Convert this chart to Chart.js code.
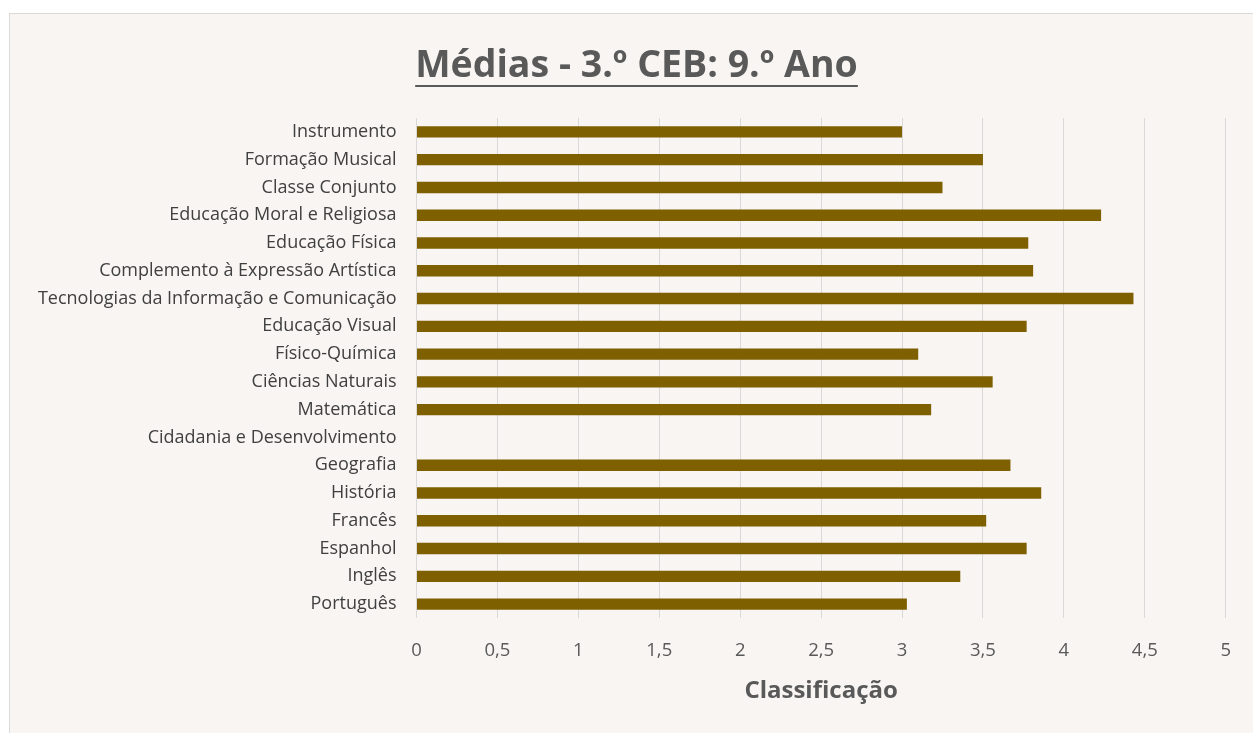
<!DOCTYPE html>
<html>
<head>
<meta charset="utf-8">
<script src="https://cdn.jsdelivr.net/npm/chart.js@4/dist/chart.umd.min.js"></script>
<style>
  html, body { margin: 0; padding: 0; background: #ffffff; }
  #wrap { position: relative; width: 1253px; height: 733px; }
</style>
</head>
<body>
<div id="wrap"><canvas id="chart" width="1253" height="733"></canvas></div>
<script>
const disciplinas = [
  'Instrumento',
  'Formação Musical',
  'Classe Conjunto',
  'Educação Moral e Religiosa',
  'Educação Física',
  'Complemento à Expressão Artística',
  'Tecnologias da Informação e Comunicação',
  'Educação Visual',
  'Físico-Química',
  'Ciências Naturais',
  'Matemática',
  'Cidadania e Desenvolvimento',
  'Geografia',
  'História',
  'Francês',
  'Espanhol',
  'Inglês',
  'Português',
];

const medias = [3.0, 3.5, 3.25, 4.23, 3.78, 3.81, 4.43, 3.77, 3.1, 3.56, 3.18, null, 3.67, 3.86, 3.52, 3.77, 3.36, 3.03];

const titulo = 'Médias - 3.º CEB: 9.º Ano';

const FONT = "'Open Sans', 'Noto Sans', sans-serif";
const TITLE_SIZE = 37.5;

// background + thin frame, like the Excel chart area
const frame = {
  id: 'frame',
  beforeDraw(chart) {
    const ctx = chart.ctx;
    ctx.save();
    ctx.fillStyle = '#f8f5f2';
    ctx.fillRect(9.5, 13.5, 1250, 730);
    ctx.strokeStyle = '#d9d9d9';
    ctx.lineWidth = 1;
    ctx.strokeRect(9.5, 13.5, 1250, 730);
    ctx.restore();
  },
};

// underlined title, centred on the chart frame rather than the plot
const underlinedTitle = {
  id: 'underlinedTitle',
  afterDraw(chart) {
    const ctx = chart.ctx;
    ctx.save();
    ctx.font = 'bold ' + TITLE_SIZE + 'px ' + FONT;
    ctx.fillStyle = '#595959';
    ctx.textAlign = 'center';
    ctx.textBaseline = 'alphabetic';
    const cx = 636.5;
    ctx.fillText(titulo, cx, 77);
    const w = ctx.measureText(titulo).width;
    ctx.strokeStyle = '#595959';
    ctx.lineWidth = 2;
    ctx.beginPath();
    ctx.moveTo(cx - w / 2, 86);
    ctx.lineTo(cx + w / 2, 86);
    ctx.stroke();
    ctx.restore();
  },
};

new Chart(document.getElementById('chart'), {
  type: 'bar',
  data: {
    labels: disciplinas,
    datasets: [{
      data: medias,
      backgroundColor: '#7f6000',
      borderWidth: 0,
      categoryPercentage: 1,
      barPercentage: 0.41,
    }],
  },
  options: {
    indexAxis: 'y',
    responsive: false,
    animation: false,
    layout: { padding: { left: 0, right: 25, top: 118, bottom: 0 } },
    plugins: {
      legend: { display: false },
      tooltip: { enabled: false },
      title: { display: false },
    },
    scales: {
      x: {
        min: 0,
        max: 5,
        ticks: {
          stepSize: 0.5,
          color: '#595959',
          font: { family: FONT, size: 18.5 },
          padding: 22,
          callback: (v) => String(v).replace('.', ','),
        },
        grid: { color: '#d9d9d9', lineWidth: 1, drawTicks: false },
        border: { display: false },
        title: {
          display: true,
          text: 'Classificação',
          color: '#595959',
          font: { family: FONT, size: 24, weight: 'bold', lineHeight: 1.2 },
          padding: { top: 0, bottom: 27 },
        },
        afterFit(scale) { scale.height = 115; },
      },
      y: {
        ticks: {
          color: '#404040',
          font: { family: FONT, size: 18 },
          padding: 12,
          autoSkip: false,
        },
        grid: { display: false },
        border: { display: false },
        afterFit(scale) { scale.width = 416.5; },
      },
    },
  },
  plugins: [frame, underlinedTitle],
});
</script>
</body>
</html>
